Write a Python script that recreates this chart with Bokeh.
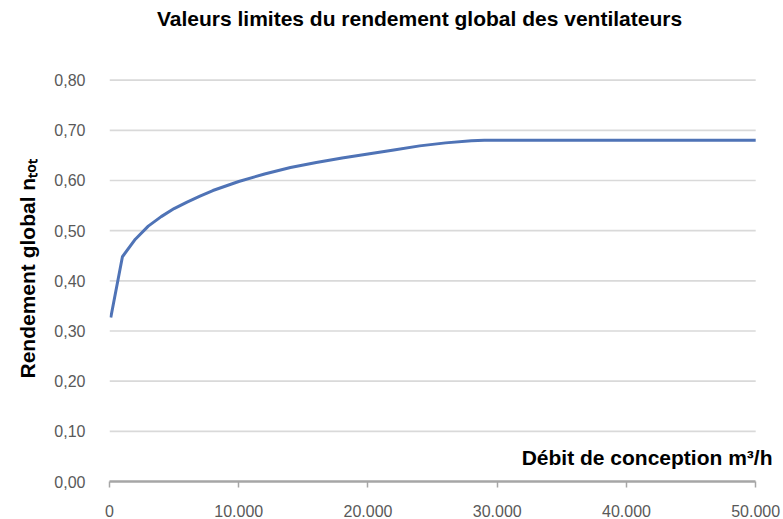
import math
from bokeh.plotting import figure
from bokeh.models import Range1d, FixedTicker, Label, Title
from bokeh.embed import file_html
from bokeh.resources import INLINE

# Data
debit = [100, 1000, 2000, 3000, 4000, 5000, 6000, 7000, 8000, 9000, 10000,
         12000, 14000, 16000, 18000, 20000, 22000, 24000, 26000, 28000, 29000,
         30000, 40000, 50000]
rendement = [0.327, 0.448, 0.483, 0.509, 0.528, 0.544, 0.557, 0.569, 0.580, 0.589, 0.598,
             0.613, 0.626, 0.636, 0.645, 0.653, 0.661, 0.669, 0.675, 0.679, 0.680,
             0.680, 0.680, 0.680]

x_ticks = [0, 10000, 20000, 30000, 40000, 50000]
x_tick_labels = ["0", "10.000", "20.000", "30.000", "40.000", "50.000"]
y_ticks = [0.0, 0.1, 0.2, 0.3, 0.4, 0.5, 0.6, 0.7, 0.8]
y_tick_labels = ["0,00", "0,10", "0,20", "0,30", "0,40", "0,50", "0,60", "0,70", "0,80"]

title_text = "Valeurs limites du rendement global des ventilateurs"
y_title = "Rendement global nₜₒₜ"
x_title = "Débit de conception m³/h"

W, H = 783, 519
FONT = "Liberation Sans"
GRID = "#d9d9d9"

# The frame reaches the top and slightly past 50 000 so the titles can sit
# inside it as labels; grid lines are drawn only over the tick extent.
p = figure(width=W, height=H, output_backend="svg", toolbar_location=None,
           x_range=Range1d(0, 51300), y_range=Range1d(0, 0.9588),
           min_border_left=107, min_border_right=11, min_border_top=0, min_border_bottom=36)
p.outline_line_color = None
p.background_fill_color = "white"
p.border_fill_color = "white"

p.segment(x0=x_ticks[0], x1=x_ticks[-1], y0=y_ticks[1:], y1=y_ticks[1:],
          line_color=GRID, line_width=1.6)

p.line(debit, rendement, line_color="#4f73b6", line_width=3)

# x axis
xa = p.xaxis[0]
xa.ticker = FixedTicker(ticks=x_ticks)
xa.bounds = (x_ticks[0], x_ticks[-1])
xa.major_label_overrides = {t: l for t, l in zip(x_ticks, x_tick_labels)}
xa.axis_line_color = "#a6a6a6"
xa.axis_line_width = 2.5
xa.major_tick_line_color = "#a6a6a6"
xa.major_tick_line_width = 1.5
xa.major_tick_in = 0
xa.major_tick_out = 6
xa.minor_tick_line_color = None
xa.major_label_text_font = FONT
xa.major_label_text_font_size = "16px"
xa.major_label_text_color = "#595959"
xa.major_label_standoff = 17

# y axis
ya = p.yaxis[0]
ya.ticker = FixedTicker(ticks=y_ticks)
ya.major_label_overrides = {t: l for t, l in zip(y_ticks, y_tick_labels)}
ya.axis_line_color = None
ya.major_tick_line_color = None
ya.minor_tick_line_color = None
ya.major_label_text_font = FONT
ya.major_label_text_font_size = "16px"
ya.major_label_text_color = "#595959"
ya.major_label_standoff = 18

p.xgrid.grid_line_color = None
p.ygrid.grid_line_color = None

# main title (screen units are measured from the frame's bottom-left corner)
p.add_layout(Label(x=310, y=463, x_units="screen", y_units="screen", text=title_text,
                   text_font=FONT, text_font_style="bold", text_font_size="21px",
                   text_align="center", text_baseline="middle", text_color="black"))

# y-axis title
p.add_layout(Title(text=y_title, text_font=FONT, text_font_style="bold",
                   text_font_size="21px", text_color="black",
                   align="left", offset=103, standoff=26), "left")

# x-axis title
p.add_layout(Label(x=663, y=24, x_units="screen", y_units="screen", text=x_title,
                   text_font=FONT, text_font_style="bold", text_font_size="21px",
                   text_align="right", text_baseline="middle", text_color="black"))

open("out.html", "w").write(file_html(p, INLINE))
